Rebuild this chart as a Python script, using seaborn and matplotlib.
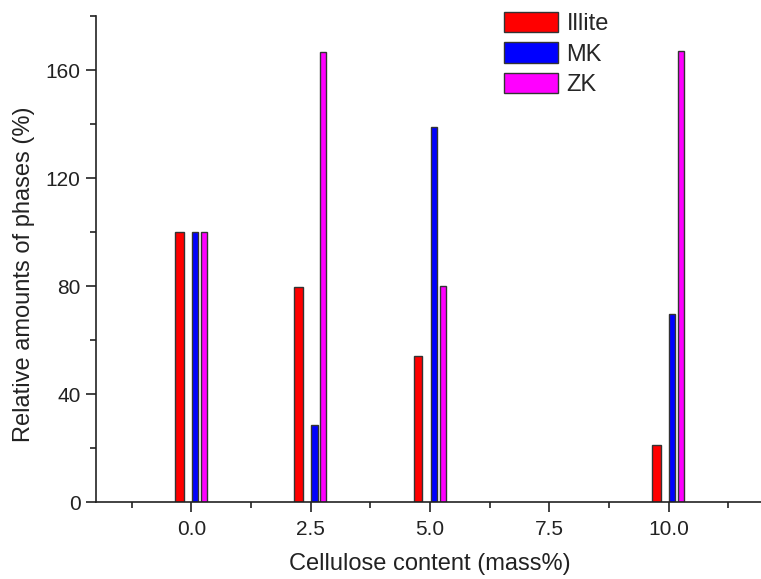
import matplotlib
matplotlib.use("Agg")
import matplotlib.pyplot as plt
import seaborn as sns
import numpy as np
import pandas as pd
from matplotlib.patches import Patch
from matplotlib.ticker import MultipleLocator

cellulose = [0.0, 2.5, 5.0, 10.0]
illite = [100, 79.6, 54, 21]
mk = [100, 28.5, 139, 69.6]
zk = [100, 166.7, 80, 167]
series_names = ["Illite", "MK", "ZK"]

sns.set_theme(style="ticks")
plt.rcParams['font.family'] = ['Liberation Sans', 'DejaVu Sans']

fig = plt.figure(figsize=(7.61, 5.79), dpi=100)
ax = fig.add_axes([96/761, 77/579, (764-96)/761, (502-16)/579])

colors = ["#FF0000", "#0000FF", "#FF00FF"]
offsets = [-0.25, 0.08, 0.265]
widths = [0.18, 0.13, 0.13]
values = [illite, mk, zk]

for name, vals, col, off, w in zip(series_names, values, colors, offsets, widths):
    df = pd.DataFrame({"x": np.array(cellulose) + off, "y": vals})
    sns.barplot(data=df, x="x", y="y", native_scale=True, width=w / 2.5,
                color=col, saturation=1, edgecolor="#333333", linewidth=1.0,
                errorbar=None, ax=ax)

ax.set_xlim(-2.0, 12.0)
ax.set_ylim(0, 180)
ax.xaxis.set_minor_locator(MultipleLocator(1.25))
ax.yaxis.set_minor_locator(MultipleLocator(20))
ax.set_xticks([0, 2.5, 5, 7.5, 10])
ax.set_xticklabels(["0.0", "2.5", "5.0", "7.5", "10.0"])
ax.set_yticks([0, 40, 80, 120, 160])
ax.set_yticklabels(["0", "40", "80", "120", "160"])

for s in ["top", "right"]:
    ax.spines[s].set_visible(False)
for s in ["left", "bottom"]:
    ax.spines[s].set_linewidth(1.2)
    ax.spines[s].set_color("#222222")

ax.tick_params(which="major", direction="out", length=7.2, width=1.2,
               labelsize=15, color="#222222", labelcolor="#222222")
ax.tick_params(axis="y", which="major", pad=4)
ax.tick_params(axis="x", which="major", pad=6)
ax.tick_params(which="minor", direction="out", length=4.3, width=1.2, color="#222222")

ax.set_xlabel("Cellulose content (mass%)", fontsize=17, color="#222222")
ax.set_ylabel("Relative amounts of phases (%)", fontsize=17, color="#222222")
ax.xaxis.set_label_coords(0.5, -(553 - 502) / 486)
ax.yaxis.set_label_coords(-(96 - 35) / 668, (502 - 274) / 486)

handles = [Patch(facecolor=c, edgecolor="#333333", linewidth=1.0, label=n)
           for c, n in zip(colors, series_names)]
fig.legend(handles=handles, loc="upper left", bbox_to_anchor=(504/761, 1 - 12/579),
           frameon=False, fontsize=17, handlelength=2.3, handleheight=0.95,
           labelspacing=0.3, handletextpad=0.35, borderpad=0, borderaxespad=0)

fig.savefig("out.png", dpi=100)
